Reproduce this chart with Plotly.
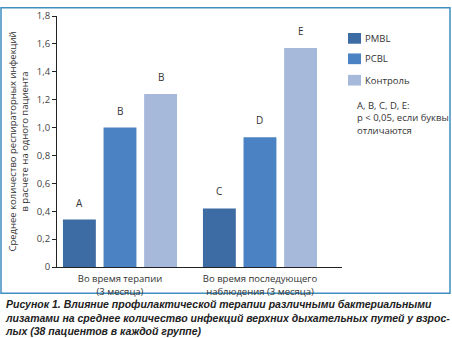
import plotly.graph_objects as go

categories = ["Во время терапии<br>(3 месяца)", "Во время последующего<br>наблюдения (3 месяца)"]
series_names = ["PMBL", "PCBL", "Контроль"]
pmbl = [0.34, 0.42]
pcbl = [1.00, 0.93]
control = [1.24, 1.57]
letters_pmbl = ["A", "C"]
letters_pcbl = ["B", "D"]
letters_control = ["B", "E"]
y_ticks = [0, 0.2, 0.4, 0.6, 0.8, 1.0, 1.2, 1.4, 1.6, 1.8]
y_ticklabels = ["0", "0,2", "0,4", "0,6", "0,8", "1,0", "1,2", "1,4", "1,6", "1,8"]

colors = ["#3d6ba3", "#4a82c3", "#a7b9db"]
W, H = 452, 338
ML, MR, MT, MB = 57, 110, 9, 71
pw = W - ML - MR
ph = H - MT - MB
font_main = "Open Sans"
txt = "#333333"

x_pos = list(range(len(categories)))
bargap = 0.13
slot = (1 - bargap) / 3

fig = go.Figure()
all_vals = [pmbl, pcbl, control]
all_letters = [letters_pmbl, letters_pcbl, letters_control]
for k, (name, vals) in enumerate(zip(series_names, all_vals)):
    fig.add_trace(go.Bar(x=x_pos, y=vals, name=name, marker=dict(color=colors[k], line=dict(width=0))))

annotations = []
for k, (vals, lets) in enumerate(zip(all_vals, all_letters)):
    for i, (v, l) in enumerate(zip(vals, lets)):
        annotations.append(dict(x=x_pos[i] + (k - 1) * slot, y=v, xref="x", yref="y", text=l,
                                showarrow=False, yshift=17, font=dict(family=font_main, size=10, color=txt)))

def px(xp):
    return (xp - ML) / pw

def py(yp):
    return (H - MB - yp) / ph

# legend built as shapes + text
leg_y = [32, 53, 75]
shapes = []
for k, name in enumerate(series_names):
    shapes.append(dict(type="rect", xref="paper", yref="paper", x0=px(348), x1=px(361),
                       y0=py(leg_y[k] + 5.5), y1=py(leg_y[k] - 5.5), fillcolor=colors[k], line=dict(width=0)))
    annotations.append(dict(xref="paper", yref="paper", x=px(363), y=py(leg_y[k]), text=name,
                            xanchor="left", yanchor="middle", showarrow=False,
                            font=dict(family=font_main, size=9.5, color=txt)))

annotations.append(dict(xref="paper", yref="paper", x=px(355), y=py(92), xanchor="left", yanchor="top",
                        align="left", showarrow=False,
                        text="A, B, C, D, E:<br>p &lt; 0,05, если буквы<br>отличаются",
                        font=dict(family=font_main, size=9.5, color=txt)))

# border frame
shapes.append(dict(type="rect", xref="paper", yref="paper", x0=px(1), x1=px(450), y0=py(294), y1=py(0.5),
                   line=dict(color="#3f8fc0", width=1.5), fillcolor="rgba(0,0,0,0)", layer="below"))

annotations.append(dict(xref="paper", yref="paper", x=px(3), y=py(297), xanchor="left", yanchor="top",
                        align="left", showarrow=False,
                        text="<b><i>Рисунок 1. Влияние профилактической терапии различными бактериальными<br>"
                             "лизатами на среднее количество инфекций верхних дыхательных путей у взрос-<br>"
                             "лых (38 пациентов в каждой группе)</i></b>",
                        font=dict(family="Liberation Sans", size=10.5, color="#222222")))

fig.update_layout(
    width=W, height=H, margin=dict(l=ML, r=MR, t=MT, b=MB),
    paper_bgcolor="white", plot_bgcolor="white",
    barmode="group", bargap=bargap, bargroupgap=0.19,
    showlegend=False,
    xaxis=dict(range=[-0.45, 1.586], tickvals=x_pos, ticktext=categories, showline=True,
               linecolor="#222222", linewidth=1, ticks="", showgrid=False, zeroline=False,
               ticklabelstandoff=3,
               tickfont=dict(family=font_main, size=9.5, color=txt)),
    yaxis=dict(range=[0, 1.8], tickvals=y_ticks, ticktext=y_ticklabels, showline=True,
               linecolor="#222222", linewidth=1, ticks="outside", ticklen=4, tickcolor="#222222",
               showgrid=False, zeroline=False,
               tickfont=dict(family=font_main, size=9.5, color="#444444"),
               title=dict(text="Среднее количество респираторных инфекций<br>в расчете на одного пациента",
                          font=dict(family=font_main, size=9.5, color=txt), standoff=6)),
    shapes=shapes, annotations=annotations,
)
fig.write_html("out.html")
